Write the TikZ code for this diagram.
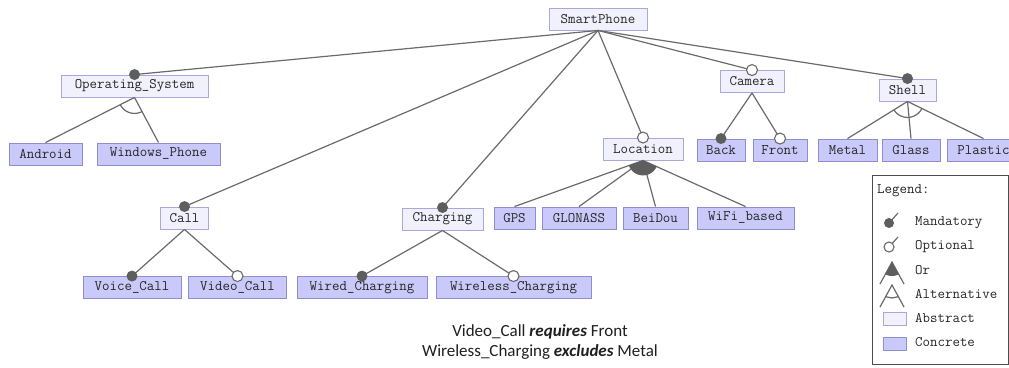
\documentclass[tikz,border=0pt]{standalone}
\usepackage{fontspec}
\newfontfamily\carlito{Carlito}
\definecolor{absfill}{HTML}{F1F1FE}
\definecolor{absdraw}{HTML}{A9A9D9}
\definecolor{confill}{HTML}{CACAFA}
\definecolor{condraw}{HTML}{8E8ECC}
\definecolor{edgecol}{HTML}{6A6A6A}
\definecolor{dotcol}{HTML}{5E5E5E}
\tikzset{
  feat/.style={rectangle, draw, line width=0.9pt, minimum height=22pt, inner sep=0pt,
    font=\ttfamily\fontsize{14.5}{14.5}\selectfont, text=black!85},
  abstract/.style={feat, fill=absfill, draw=absdraw},
  concrete/.style={feat, fill=confill, draw=condraw},
  edge/.style={draw=edgecol, line width=1.2pt},
  mand/.style={fill=dotcol},
  opt/.style={fill=white, draw=edgecol, line width=1.1pt},
  legtext/.style={anchor=west, inner sep=0pt, font=\ttfamily\fontsize{14.5}{14.5}\selectfont, text=black!85}
}
\begin{document}
\begin{tikzpicture}[x=1pt, y=-1pt]
\useasboundingbox (0,0) rectangle (1009,367);

% feature boxes
\node[abstract, minimum width=98] (root) at (598,19) {SmartPhone};
\node[abstract, minimum width=147] (os) at (134.5,86) {Operating\_System};
\node[concrete, minimum width=73] (android) at (45.5,154) {Android};
\node[concrete, minimum width=123] (wphone) at (158.5,154) {Windows\_Phone};
\node[abstract, minimum width=48] (call) at (184.5,218) {Call};
\node[concrete, minimum width=98] (voice) at (132,287.5) {Voice\_Call};
\node[concrete, minimum width=98] (video) at (237.5,287.5) {Video\_Call};
\node[abstract, minimum width=81] (charging) at (442.5,219) {Charging};
\node[concrete, minimum width=130] (wired) at (362,287.5) {Wired\_Charging};
\node[concrete, minimum width=155] (wireless) at (513.5,287.5) {Wireless\_Charging};
\node[abstract, minimum width=80] (location) at (643,149) {Location};
\node[concrete, minimum width=41] (gps) at (514.5,218) {GPS};
\node[concrete, minimum width=74] (glonass) at (579,218) {GLONASS};
\node[concrete, minimum width=65] (beidou) at (655.5,218) {BeiDou};
\node[concrete, minimum width=97] (wifi) at (745.5,218) {WiFi\_based};
\node[abstract, minimum width=64] (camera) at (752,81.5) {Camera};
\node[concrete, minimum width=48] (back) at (721,150) {Back};
\node[concrete, minimum width=54] (front) at (780,150) {Front};
\node[abstract, minimum width=57] (shell) at (907.5,90) {Shell};
\node[concrete, minimum width=59] (metal) at (847.5,150) {Metal};
\node[concrete, minimum width=58] (glass) at (911,150) {Glass};
\node[concrete, minimum width=73] (plastic) at (983.5,150) {Plastic};

% connectors
\foreach \p/\c in {root/os, root/call, root/charging, root/location, root/camera, root/shell,
                   os/android, os/wphone, call/voice, call/video, charging/wired, charging/wireless,
                   location/gps, location/glonass, location/beidou, location/wifi,
                   camera/back, camera/front, shell/metal, shell/glass, shell/plastic}
  \path[edge] (\p.south) -- (\c.north);

% alternative groups
\begin{scope}
  \clip (os.south) -- (android.north) -- (wphone.north) -- cycle;
  \draw[edge] (os.south) circle (16pt);
\end{scope}
\begin{scope}
  \clip (shell.south) -- (metal.north) -- (plastic.north) -- cycle;
  \draw[edge] (shell.south) circle (16pt);
\end{scope}
% or group
\begin{scope}
  \clip (location.south) -- (gps.north) -- (wifi.north) -- cycle;
  \fill[dotcol] (location.south) circle (15pt);
\end{scope}

% mandatory and optional markers
\foreach \c in {os, call, charging, shell, voice, wired, back}
  \fill[mand] (\c.north) circle (5.5pt);
\foreach \c in {location, camera, video, wireless, front}
  \draw[opt] (\c.north) circle (5.5pt);

% legend
\draw[draw=black!70, line width=1pt, fill=white] (872,175) rectangle (1008,364);
\node[legtext] (lgtitle) at (877,191) {Legend:};
\draw[edge] (889,223) -- (898,213);
\fill[mand] (889,223) circle (5pt);
\node[legtext] (lgmand) at (915,223) {Mandatory};
\draw[edge] (889,247) -- (898,237);
\draw[opt] (889,247) circle (5pt);
\node[legtext] (lgopt) at (915,247) {Optional};
\draw[edge] (880,284) -- (892,262) -- (904,284);
\begin{scope}
  \clip (892,262) -- (876,291) -- (908,291) -- cycle;
  \fill[dotcol] (892,262) circle (14pt);
\end{scope}
\node[legtext] (lgor) at (915,270) {Or};
\draw[edge] (880,307) -- (892,285) -- (904,307);
\begin{scope}
  \clip (892,285) -- (876,314) -- (908,314) -- cycle;
  \draw[edge] (892,285) circle (13pt);
\end{scope}
\node[legtext] (lgalt) at (915,294) {Alternative};
\draw[fill=absfill, draw=absdraw, line width=0.9pt] (883,312) rectangle (906,325);
\node[legtext] (lgabs) at (915,318) {Abstract};
\draw[fill=confill, draw=condraw, line width=0.9pt] (883,337) rectangle (906,350);
\node[legtext] (lgcon) at (915,342) {Concrete};

% cross-tree constraints
\node[align=center, inner sep=0pt, text=black!88,
      font=\carlito\fontsize{17}{20}\selectfont] (constraints) at (540,342)
  {Video\_Call \textbf{\textit{requires}} Front\\Wireless\_Charging \textbf{\textit{excludes}} Metal};
\end{tikzpicture}
\end{document}
